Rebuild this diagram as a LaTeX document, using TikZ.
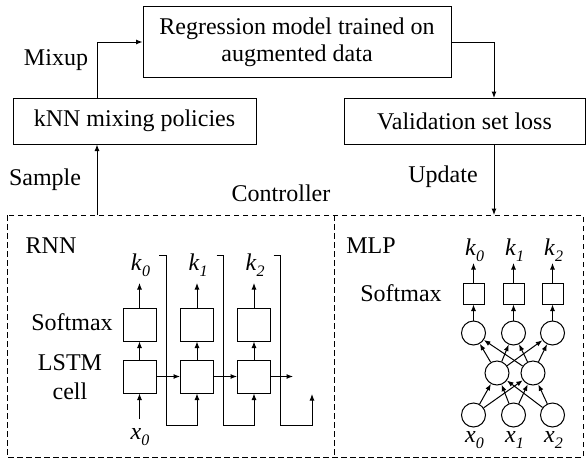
\documentclass[tikz,border=0pt]{standalone}
\usepackage{fontspec}
\setmainfont{Liberation Serif}
\usetikzlibrary{arrows.meta,calc}
\newcommand{\ksub}[2]{\textit{#1}\raisebox{-0.5ex}{\fontsize{16}{16}\selectfont\textit{#2}}}
\begin{document}
\begin{tikzpicture}[x=1pt,y=-1pt,
  line width=1pt,
  every node/.style={font=\fontsize{24}{27}\selectfont, inner sep=0pt},
  arr/.style={-{Latex[length=6.5pt,width=5pt]}},
  bigbox/.style={draw, rectangle},
  cellbox/.style={draw, rectangle, minimum width=33pt, minimum height=33pt},
  smbox/.style={draw, rectangle, minimum width=21pt, minimum height=21pt},
  neuron/.style={draw, circle, minimum size=24pt},
  ctrl/.style={dashed, dash pattern=on 5.5pt off 3.5pt}]
\path[use as bounding box] (0,0) rectangle (586,464);

% top section
\node[bigbox, minimum width=308pt, minimum height=71pt, align=center] (reg) at (297,42)
  {Regression model trained on\\augmented data};
\node[bigbox, minimum width=243pt, minimum height=46pt] (knn) at (134.5,121) {kNN mixing policies};
\node[bigbox, minimum width=241pt, minimum height=46pt] (val) at (464.5,121) {Validation set loss};
\node (mixup) at (56,60) {Mixup};
\node (sample) at (45,180) {Sample};
\node (update) at (443,177) {Update};
\node (controller) at (281,193) {Controller};

\coordinate (mixfoot) at (97,98);
\coordinate (valtop) at (494,98);
\draw[arr] (mixfoot) |- (reg.west);
\draw[arr] (reg.east) -| (valtop);
\coordinate (samplefoot) at (97,215);
\draw[arr] (samplefoot) -- (samplefoot |- knn.south);
\coordinate (updfoot) at (494,215);
\draw[arr] (updfoot |- val.south) -- (updfoot);

% controller frame
\draw[ctrl] (7,215) rectangle (583,457);
\draw[ctrl] (334,215) -- (334,457);
\node (rnn) at (51,246) {RNN};
\node (mlp) at (371,246) {MLP};

% RNN
\node (smlabel) at (72,322) {Softmax};
\node (lstmlabel) at (70,377) [align=center, font=\fontsize{24}{29}\selectfont] {LSTM\\cell};
\foreach \i/\cx in {0/139.5,1/197,2/254}{
  \node[cellbox] (s\i) at (\cx,324.5) {};
  \node[cellbox] (l\i) at (\cx,376.5) {};
  \node (k\i) at (\cx+1,265) {\ksub{k}{\i}};
  \coordinate (kt\i) at (\cx,283);
  \coordinate (br\i) at (\cx+19.5,255);
  \draw[arr] (l\i) -- (s\i);
  \draw[arr] (s\i) -- (kt\i);
}
\draw[arr] (l0) -- (l1);
\draw[arr] (l1) -- (l2);
\coordinate (hend) at (293,376.5);
\draw[arr] (l2) -- (hend);
\coordinate (fbend) at (312,394);
\draw[arr] (br0) -- ++(7,0) -- ++(0,170) -| (l1.south);
\draw[arr] (br1) -- ++(7,0) -- ++(0,170) -| (l2.south);
\draw[arr] (br2) -- ++(7,0) -- ++(0,170) -| (fbend);
\node (x0) at (140,437) {\ksub{x}{0}};
\coordinate (xin) at (139.5,419);
\draw[arr] (xin) -- (l0.south);

% MLP
\node (smlabel2) at (401,293) {Softmax};
\foreach \i/\cx in {0/473.5,1/513.5,2/552.5}{
  \node[smbox] (q\i) at (\cx,293.5) {};
  \coordinate (qt\i) at (\cx,263);
  \node (mk\i) at (\cx+1,250) {\ksub{k}{\i}};
  \node[neuron] (t\i) at (\cx,333) {};
  \node[neuron] (b\i) at (\cx,415) {};
  \node (mx\i) at (\cx+1,440) {\ksub{x}{\i}};
  \draw[arr] (t\i) -- (q\i);
  \draw[arr] (q\i) -- (qt\i);
}
\node[neuron] (m0) at (497,373) {};
\node[neuron] (m1) at (533,373) {};
\foreach \i in {0,1,2}{
  \foreach \j in {0,1}{
    \draw[arr] (b\i) -- (m\j);
    \draw[arr] (m\j) -- (t\i);
  }
}
\end{tikzpicture}
\end{document}
